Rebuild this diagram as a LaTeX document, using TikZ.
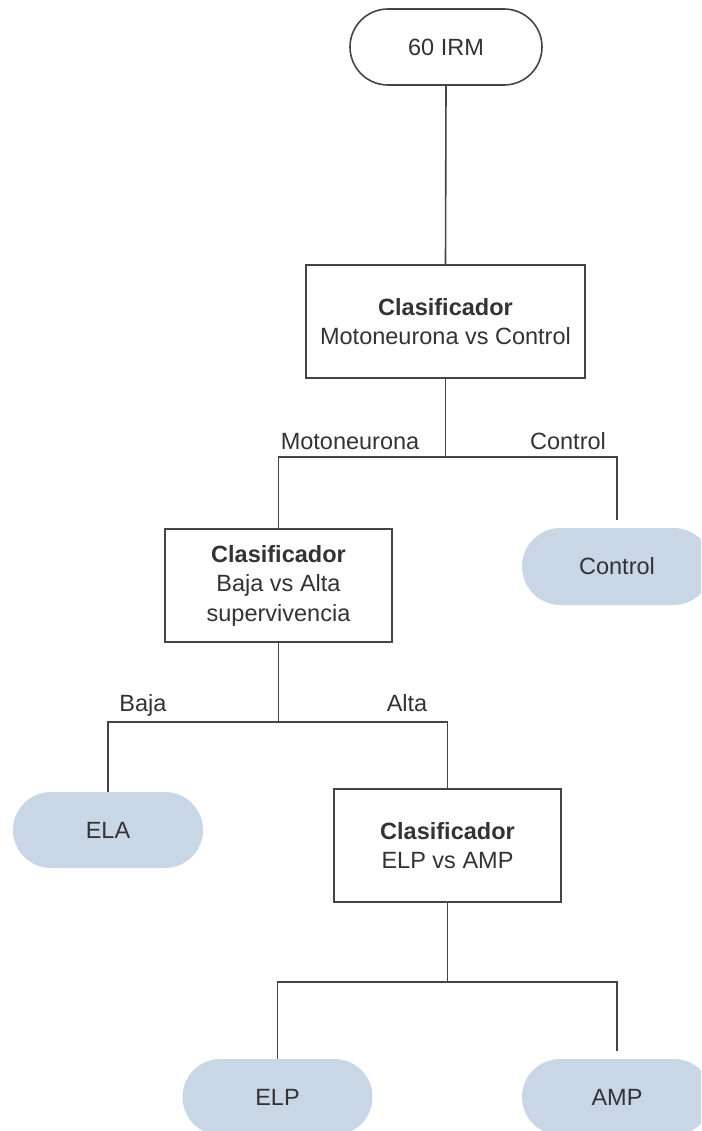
\documentclass[tikz,border=0pt]{standalone}
\usepackage{fontspec}
\setmainfont{Liberation Sans}
\usetikzlibrary{shapes.misc}
\definecolor{txt}{HTML}{333333}
\definecolor{ln}{HTML}{454545}
\definecolor{leaf}{HTML}{C9D6E6}
\tikzset{
  base/.style={text=txt, font=\fontsize{23.5}{29.5}\selectfont, align=center, inner sep=0pt},
  startbox/.style={base, rounded rectangle, draw=ln, line width=1.6pt, fill=white, minimum width=192pt, minimum height=76pt},
  leafbox/.style={base, rounded rectangle, fill=leaf, minimum width=190pt, minimum height=77pt},
  classbox/.style={base, rectangle, draw=ln, line width=1.6pt, fill=white, minimum height=113pt},
  lbl/.style={base, anchor=base},
  conn/.style={draw=ln, line width=1.6pt},
}
\begin{document}
\begin{tikzpicture}[x=1pt, y=-1pt]
\useasboundingbox (0,0) rectangle (701,1131);
\clip (0,0) rectangle (701,1131);
\node[startbox] (irm) at (446,47) {60 IRM};
\node[classbox, minimum width=279pt] (c1) at (445.5,321.5) {\textbf{Clasificador}\\Motoneurona vs Control};
\node[classbox, minimum width=227pt] (c2) at (278.5,585.5) {\textbf{Clasificador}\\Baja vs Alta\\supervivencia};
\node[leafbox] (ctrl) at (617,566.5) {Control};
\node[leafbox, minimum height=76pt] (ela) at (108,830) {ELA};
\node[classbox, minimum width=227pt] (c3) at (447.5,845.5) {\textbf{Clasificador}\\ELP vs AMP};
\node[leafbox, minimum height=76pt] (elp) at (277.5,1097) {ELP};
\node[leafbox, minimum height=76pt] (amp) at (617,1097) {AMP};
\node[lbl] (lm) at (350,449.5) {Motoneurona};
\node[lbl] (lc) at (568,449.5) {Control};
\node[lbl] (lb) at (143,711.5) {Baja};
\node[lbl] (la) at (407,711.5) {Alta};
\coordinate (h1) at (445.5,457);
\coordinate (h2) at (278.5,722);
\coordinate (h3) at (447.5,982);
\draw[conn] (irm.south) -- (c1.north);
\draw[conn] (c1.south) -- (h1);
\draw[conn] (c2.north) |- (h1);
\draw[conn, shorten >=8pt] (h1) -| (ctrl.north);
\draw[conn] (c2.south) -- (h2);
\draw[conn] (ela.north) |- (h2);
\draw[conn] (h2) -| (c3.north);
\draw[conn] (c3.south) -- (h3);
\draw[conn] (elp.north) |- (h3);
\draw[conn, shorten >=8pt] (h3) -| (amp.north);
\end{tikzpicture}
\end{document}
